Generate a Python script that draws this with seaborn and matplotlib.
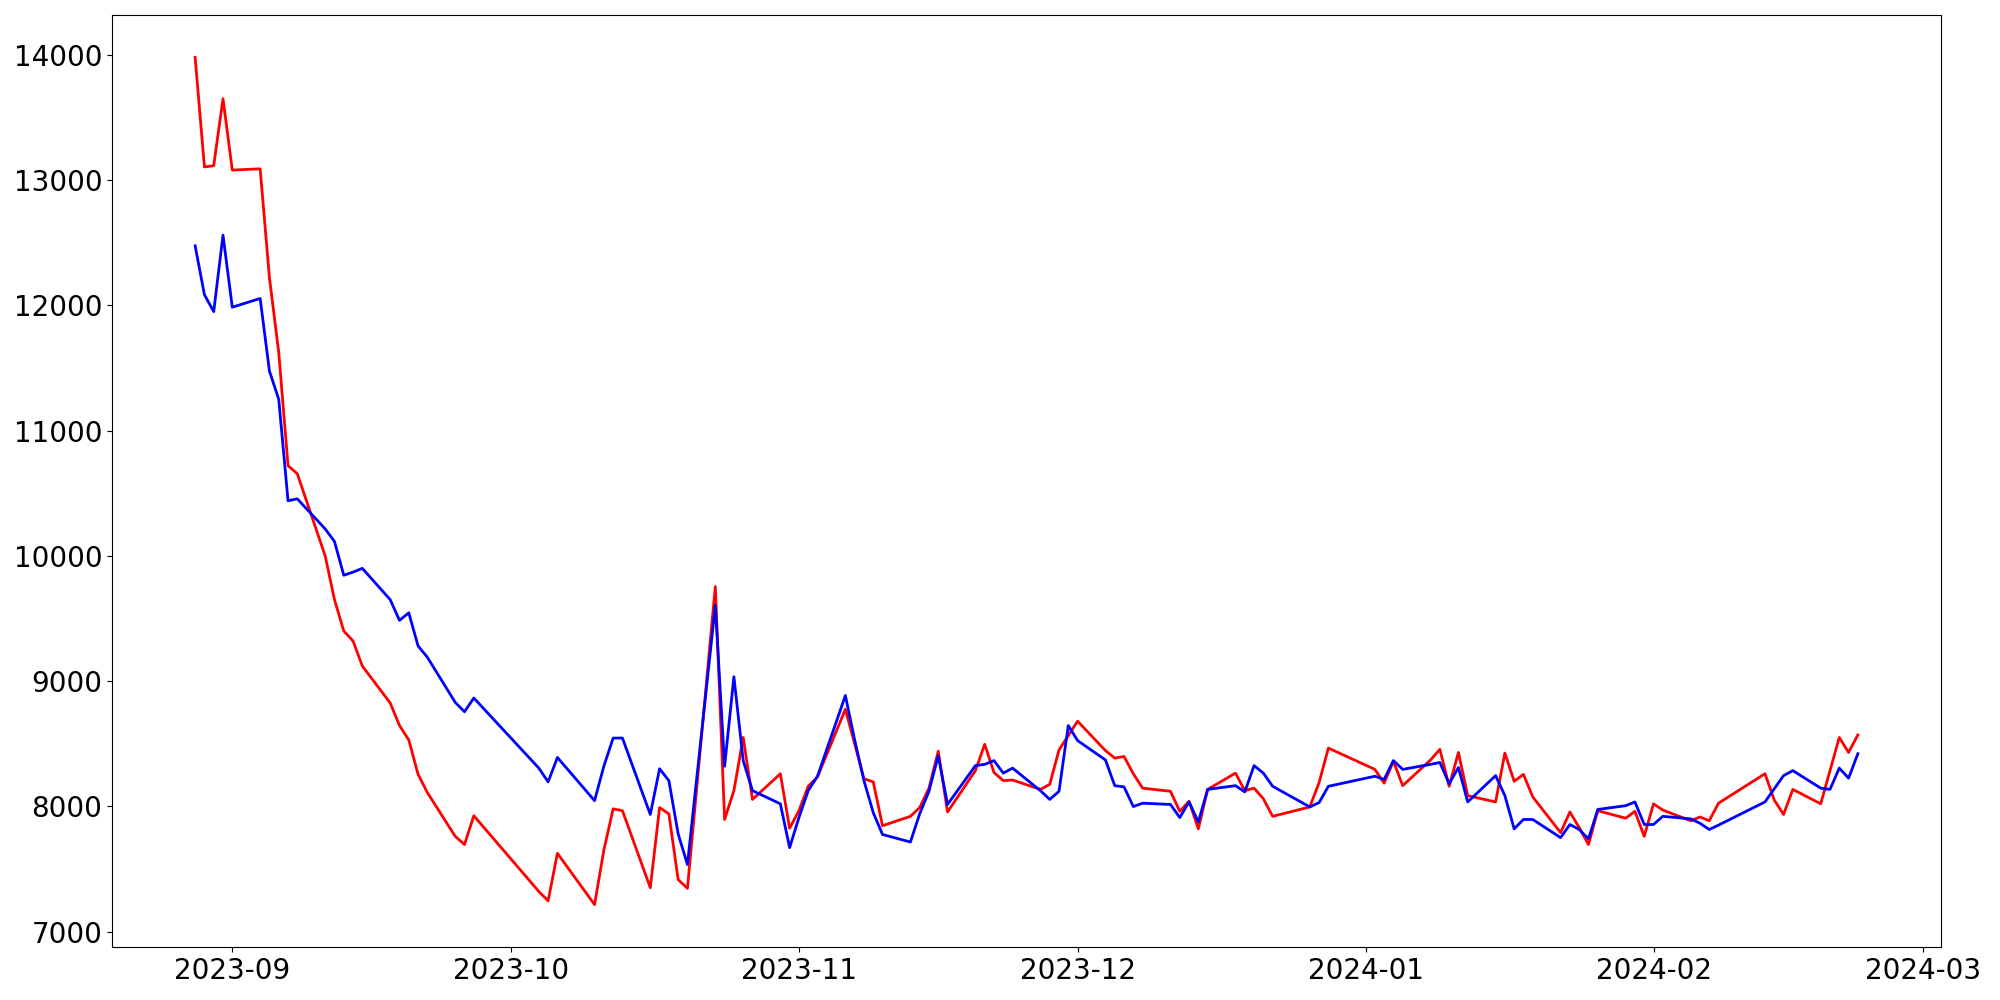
import pandas as pd
import matplotlib
matplotlib.use("Agg")
import matplotlib.pyplot as plt
import seaborn as sns

# trading days (KRX calendar) and the two series
dates = [
    "2023-08-28", "2023-08-29", "2023-08-30", "2023-08-31", "2023-09-01",
    "2023-09-04", "2023-09-05", "2023-09-06", "2023-09-07", "2023-09-08",
    "2023-09-11", "2023-09-12", "2023-09-13", "2023-09-14", "2023-09-15",
    "2023-09-18", "2023-09-19", "2023-09-20", "2023-09-21", "2023-09-22",
    "2023-09-25", "2023-09-26", "2023-09-27",
    "2023-10-04", "2023-10-05", "2023-10-06",
    "2023-10-10", "2023-10-11", "2023-10-12", "2023-10-13",
    "2023-10-16", "2023-10-17", "2023-10-18", "2023-10-19", "2023-10-20",
    "2023-10-23", "2023-10-24", "2023-10-25", "2023-10-26", "2023-10-27",
    "2023-10-30", "2023-10-31", "2023-11-01", "2023-11-02", "2023-11-03",
    "2023-11-06", "2023-11-07", "2023-11-08", "2023-11-09", "2023-11-10",
    "2023-11-13", "2023-11-14", "2023-11-15", "2023-11-16", "2023-11-17",
    "2023-11-20", "2023-11-21", "2023-11-22", "2023-11-23", "2023-11-24",
    "2023-11-27", "2023-11-28", "2023-11-29", "2023-11-30", "2023-12-01",
    "2023-12-04", "2023-12-05", "2023-12-06", "2023-12-07", "2023-12-08",
    "2023-12-11", "2023-12-12", "2023-12-13", "2023-12-14", "2023-12-15",
    "2023-12-18", "2023-12-19", "2023-12-20", "2023-12-21", "2023-12-22",
    "2023-12-26", "2023-12-27", "2023-12-28",
    "2024-01-02", "2024-01-03", "2024-01-04", "2024-01-05",
    "2024-01-08", "2024-01-09", "2024-01-10", "2024-01-11", "2024-01-12",
    "2024-01-15", "2024-01-16", "2024-01-17", "2024-01-18", "2024-01-19",
    "2024-01-22", "2024-01-23", "2024-01-24", "2024-01-25", "2024-01-26",
    "2024-01-29", "2024-01-30", "2024-01-31", "2024-02-01", "2024-02-02",
    "2024-02-05", "2024-02-06", "2024-02-07", "2024-02-08",
    "2024-02-13", "2024-02-14", "2024-02-15", "2024-02-16",
    "2024-02-19", "2024-02-20", "2024-02-21", "2024-02-22", "2024-02-23",
]

red_values = [
    13980, 13105, 13115, 13650, 13080,
    13090, 12220, 11625, 10720, 10655,
    10000, 9650, 9400, 9320, 9120,
    8825, 8645, 8530, 8255, 8110,
    7760, 7695, 7925,
    7320, 7245, 7625,
    7215, 7650, 7980, 7965,
    7350, 7990, 7940, 7415, 7345,
    9755, 7895, 8125, 8550, 8055,
    8260, 7825, 7965, 8160, 8235,
    8775, 8500, 8220, 8195, 7845,
    7920, 7990, 8145, 8440, 7955,
    8285, 8495, 8270, 8205, 8210,
    8135, 8175, 8450, 8565, 8680,
    8445, 8385, 8398, 8260, 8145,
    8120, 7960, 8040, 7820, 8135,
    8265, 8125, 8145, 8060, 7920,
    7995, 8190, 8465,
    8295, 8185, 8360, 8165,
    8370, 8455, 8160, 8430, 8085,
    8035, 8425, 8200, 8255, 8075,
    7790, 7955, 7830, 7695, 7965,
    7905, 7960, 7760, 8020, 7970,
    7885, 7915, 7885, 8025,
    8260, 8050, 7935, 8135,
    8020, 8285, 8550, 8430, 8570,
]

blue_values = [
    12475, 12085, 11950, 12560, 11985,
    12055, 11475, 11250, 10440, 10455,
    10215, 10115, 9845, 9870, 9900,
    9650, 9485, 9545, 9280, 9190,
    8830, 8755, 8865,
    8305, 8195, 8390,
    8045, 8320, 8545, 8545,
    7935, 8300, 8205, 7780, 7535,
    9605, 8320, 9035, 8365, 8125,
    8020, 7670, 7910, 8125, 8240,
    8885, 8530, 8205, 7950, 7775,
    7715, 7940, 8120, 8405, 8015,
    8325, 8335, 8365, 8265, 8305,
    8125, 8055, 8120, 8645, 8525,
    8370, 8165, 8155, 7998, 8025,
    8015, 7910, 8035, 7875, 8135,
    8165, 8115, 8325, 8265, 8160,
    7995, 8030, 8160,
    8240, 8215, 8365, 8295,
    8335, 8350, 8180, 8310, 8035,
    8245, 8085, 7820, 7895, 7895,
    7750, 7855, 7815, 7740, 7975,
    8005, 8035, 7855, 7855, 7920,
    7900, 7865, 7815, 7850,
    8035, 8140, 8245, 8285,
    8145, 8135, 8305, 8225, 8420,
]

df = pd.DataFrame({
    "date": pd.to_datetime(dates),
    "red": red_values,
    "blue": blue_values,
})

fig, ax = plt.subplots(figsize=(20, 10), dpi=100)

sns.lineplot(data=df, x="date", y="red", color="red", linewidth=2, ax=ax)
sns.lineplot(data=df, x="date", y="blue", color="blue", linewidth=2, ax=ax)

ax.set_xlabel("")
ax.set_ylabel("")
ax.tick_params(axis="both", labelsize=20)

fig.subplots_adjust(left=0.056, right=0.9705, top=0.985, bottom=0.053)
fig.savefig("out.png", dpi=100, facecolor="white")
